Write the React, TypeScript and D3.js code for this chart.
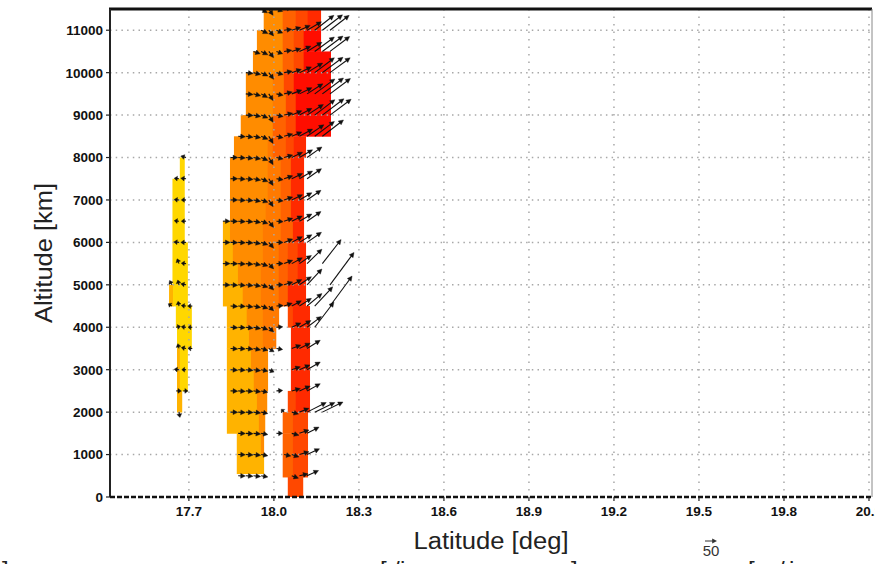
import React from 'react';
import * as d3 from 'd3';

// ---------- axes ----------
const xTickValues = [17.7, 18.0, 18.3, 18.6, 18.9, 19.2, 19.5, 19.8, 20.1];
const xTickLabels = ['17.7', '18.0', '18.3', '18.6', '18.9', '19.2', '19.5', '19.8', '20.1'];
const yTickValues = [0, 1000, 2000, 3000, 4000, 5000, 6000, 7000, 8000, 9000, 10000, 11000];
const yTickLabels = ['0', '1000', '2000', '3000', '4000', '5000', '6000', '7000', '8000', '9000', '10000', '11000'];
const latDomain = [17.4216, 20.1106];
const altDomain = [0, 11500];

// ---------- shaded field levels ----------
const levelColors = ['#FFD700', '#FFB300', '#FF8C00', '#FF7A00', '#FF6200', '#FF4800', '#FF2A00', '#FF0D00'];

// [lat0, lat1, alt0, alt1, level]
const cells: [number, number, number, number, number][] = [
  // yellow column
  [17.668, 17.684, 7500, 8000, 0],
  [17.642, 17.684, 6000, 7500, 0],
  [17.642, 17.695, 5000, 6000, 0],
  [17.630, 17.644, 4500, 5000, 1], [17.644, 17.695, 4500, 5000, 0],
  [17.654, 17.709, 4000, 4500, 0],
  [17.658, 17.709, 3500, 4000, 0],
  [17.658, 17.668, 2500, 3500, 1], [17.668, 17.695, 2500, 3500, 0],
  [17.658, 17.675, 2000, 2500, 1],
  // main block, upper part
  [17.964, 18.031, 11000, 11500, 2], [18.031, 18.077, 11000, 11500, 4], [18.077, 18.119, 11000, 11500, 5], [18.119, 18.165, 11000, 11500, 6],
  [17.940, 18.031, 10500, 11000, 2], [18.031, 18.070, 10500, 11000, 4], [18.070, 18.105, 10500, 11000, 5], [18.105, 18.165, 10500, 11000, 7],
  [17.926, 18.031, 10000, 10500, 2], [18.031, 18.070, 10000, 10500, 4], [18.070, 18.105, 10000, 10500, 5], [18.105, 18.200, 10000, 10500, 7],
  [17.901, 17.996, 9500, 10000, 2], [17.996, 18.035, 9500, 10000, 3], [18.035, 18.070, 9500, 10000, 5], [18.070, 18.200, 9500, 10000, 7],
  [17.901, 17.996, 9000, 9500, 2], [17.996, 18.042, 9000, 9500, 3], [18.042, 18.077, 9000, 9500, 5], [18.077, 18.200, 9000, 9500, 7],
  [17.883, 17.996, 8500, 9000, 2], [17.996, 18.042, 8500, 9000, 4], [18.042, 18.077, 8500, 9000, 5], [18.077, 18.200, 8500, 9000, 7],
  [17.859, 17.978, 8000, 8500, 2], [17.978, 17.996, 8000, 8500, 3], [17.996, 18.042, 8000, 8500, 4], [18.042, 18.070, 8000, 8500, 5], [18.070, 18.112, 8000, 8500, 6],
  [17.845, 17.978, 7500, 8000, 2], [17.978, 18.024, 7500, 8000, 3], [18.024, 18.060, 7500, 8000, 4], [18.060, 18.105, 7500, 8000, 6],
  [17.845, 17.978, 7000, 7500, 2], [17.978, 18.024, 7000, 7500, 3], [18.024, 18.060, 7000, 7500, 4], [18.060, 18.105, 7000, 7500, 6],
  [17.845, 17.971, 6500, 7000, 2], [17.971, 18.024, 6500, 7000, 3], [18.024, 18.060, 6500, 7000, 4], [18.060, 18.105, 6500, 7000, 6],
  [17.820, 17.845, 6000, 6500, 1], [17.845, 17.961, 6000, 6500, 2], [17.961, 18.024, 6000, 6500, 3], [18.024, 18.067, 6000, 6500, 4], [18.067, 18.105, 6000, 6500, 6],
  [17.820, 17.855, 5500, 6000, 1], [17.855, 17.961, 5500, 6000, 2], [17.961, 18.017, 5500, 6000, 3], [18.017, 18.049, 5500, 6000, 4], [18.049, 18.084, 5500, 6000, 5], [18.084, 18.112, 5500, 6000, 6],
  [17.820, 17.873, 5000, 5500, 1], [17.873, 17.954, 5000, 5500, 2], [17.954, 18.017, 5000, 5500, 3], [18.017, 18.049, 5000, 5500, 4], [18.049, 18.084, 5000, 5500, 5], [18.084, 18.112, 5000, 5500, 6],
  [17.820, 17.890, 4500, 5000, 1], [17.890, 17.954, 4500, 5000, 2], [17.954, 18.017, 4500, 5000, 3], [18.017, 18.049, 4500, 5000, 4], [18.049, 18.112, 4500, 5000, 6],
  // lower part: orange block + red column separated by a gap
  [17.834, 17.904, 4000, 4500, 1], [17.904, 17.961, 4000, 4500, 2], [17.961, 18.017, 4000, 4500, 3], [18.049, 18.067, 4000, 4500, 5], [18.067, 18.126, 4000, 4500, 6],
  [17.834, 17.912, 3500, 4000, 1], [17.912, 17.961, 3500, 4000, 2], [17.961, 18.007, 3500, 4000, 3], [18.060, 18.126, 3500, 4000, 6],
  [17.834, 17.919, 3000, 3500, 1], [17.919, 17.978, 3000, 3500, 2], [18.060, 18.126, 3000, 3500, 6],
  [17.834, 17.929, 2500, 3000, 1], [17.929, 17.978, 2500, 3000, 2], [18.060, 18.126, 2500, 3000, 6],
  [17.834, 17.940, 2000, 2500, 1], [17.940, 17.975, 2000, 2500, 2], [18.049, 18.077, 2000, 2500, 5], [18.077, 18.126, 2000, 2500, 6],
  [17.834, 17.947, 1500, 2000, 1], [17.947, 17.968, 1500, 2000, 2], [18.031, 18.067, 1500, 2000, 4], [18.067, 18.119, 1500, 2000, 5],
  [17.869, 17.954, 1000, 1500, 1], [17.954, 17.964, 1000, 1500, 2], [18.031, 18.067, 1000, 1500, 4], [18.067, 18.119, 1000, 1500, 5],
  [17.869, 17.964, 550, 1000, 1], [18.031, 18.067, 470, 1000, 4], [18.067, 18.119, 470, 1000, 5],
  [18.049, 18.102, 0, 470, 5],
];

// ---------- wind vectors: [altitude, [[lat, u (m/s), w (m/s)], ...]] ----------
const windRows: [number, [number, number, number][]][] = [
  [11500, [[17.955, 26, -16], [17.982, 18, -26], [18.009, 26, -10], [18.036, 32, 6], [18.063, 36, 12], [18.09, 42, 18], [18.117, 55, 30], [18.144, 72, 48]]],
  [11000, [[17.955, 28, -14], [17.982, 20, -24], [18.009, 26, -12], [18.036, 32, 4], [18.063, 38, 12], [18.09, 45, 20], [18.117, 60, 35], [18.144, 80, 62], [18.171, 84, 64], [18.198, 80, 62]]],
  [10500, [[17.928, 28, -10], [17.955, 28, -14], [17.982, 20, -26], [18.009, 26, -10], [18.036, 32, 5], [18.063, 38, 12], [18.09, 48, 22], [18.117, 62, 38], [18.144, 82, 60], [18.171, 86, 64], [18.198, 82, 62]]],
  [10000, [[17.901, 30, -4], [17.928, 30, -8], [17.955, 28, -14], [17.982, 20, -28], [18.009, 28, -8], [18.036, 34, 6], [18.063, 40, 14], [18.09, 50, 24], [18.117, 65, 40], [18.144, 82, 62], [18.171, 86, 64], [18.198, 84, 62]]],
  [9500, [[17.901, 30, -3], [17.928, 30, -8], [17.955, 27, -15], [17.982, 18, -28], [18.009, 28, -6], [18.036, 34, 8], [18.063, 42, 16], [18.09, 52, 26], [18.117, 66, 42], [18.144, 84, 62], [18.171, 88, 66], [18.198, 85, 64]]],
  [9000, [[17.901, 30, -2], [17.928, 30, -6], [17.955, 28, -12], [17.982, 18, -30], [18.009, 28, -6], [18.036, 36, 8], [18.063, 42, 18], [18.09, 52, 28], [18.117, 68, 44], [18.144, 84, 64], [18.171, 90, 68], [18.198, 88, 66]]],
  [8500, [[17.874, 30, -2], [17.901, 30, -4], [17.928, 30, -6], [17.955, 28, -12], [17.982, 18, -30], [18.009, 28, -6], [18.036, 36, 10], [18.063, 42, 18], [18.09, 55, 30], [18.117, 70, 48], [18.144, 82, 62], [18.171, 88, 68]]],
  [8000, [[17.69, -22, 6], [17.847, 30, 0], [17.874, 30, -2], [17.901, 30, -4], [17.928, 30, -6], [17.955, 28, -12], [17.982, 18, -30], [18.009, 28, -6], [18.036, 36, 10], [18.063, 45, 22], [18.09, 55, 32], [18.117, 62, 44]]],
  [7500, [[17.665, -20, 2], [17.69, -22, 2], [17.847, 30, 0], [17.874, 30, -2], [17.901, 30, -3], [17.928, 30, -6], [17.955, 28, -12], [17.982, 18, -28], [18.009, 28, -4], [18.036, 36, 12], [18.063, 45, 22], [18.09, 55, 32], [18.117, 60, 42]]],
  [7000, [[17.665, -20, 2], [17.69, -20, 0], [17.847, 30, 0], [17.874, 30, -2], [17.901, 30, -3], [17.928, 30, -6], [17.955, 28, -10], [17.982, 18, -28], [18.009, 28, -4], [18.036, 36, 12], [18.063, 45, 22], [18.09, 52, 30], [18.117, 58, 40]]],
  [6500, [[17.665, -20, 2], [17.69, -20, 0], [17.82, 30, 0], [17.847, 30, -1], [17.874, 30, -2], [17.901, 30, -3], [17.928, 30, -6], [17.955, 28, -10], [17.982, 20, -26], [18.009, 28, -2], [18.036, 36, 12], [18.063, 44, 22], [18.09, 52, 30], [18.117, 58, 40]]],
  [6000, [[17.665, -22, 2], [17.69, -22, 0], [17.82, 30, 0], [17.847, 30, -1], [17.874, 30, -2], [17.901, 30, -3], [17.928, 30, -6], [17.955, 28, -10], [17.982, 20, -24], [18.009, 28, 0], [18.036, 36, 14], [18.063, 44, 24], [18.09, 52, 32], [18.117, 60, 42]]],
  [5500, [[17.665, -8, 20], [17.69, -20, 2], [17.82, 30, 0], [17.847, 30, -1], [17.874, 30, -2], [17.901, 30, -3], [17.928, 30, -6], [17.955, 28, -10], [17.982, 20, -22], [18.009, 28, 0], [18.036, 36, 14], [18.063, 44, 24], [18.09, 50, 34], [18.117, 62, 60], [18.171, 78, 100]]],
  [5000, [[17.64, -10, 18], [17.665, -5, 20], [17.69, -22, 4], [17.82, 30, -1], [17.847, 30, -2], [17.874, 30, -3], [17.901, 30, -4], [17.928, 30, -6], [17.955, 28, -10], [17.982, 20, -22], [18.009, 28, 0], [18.036, 36, 12], [18.063, 42, 22], [18.09, 50, 34], [18.117, 62, 66], [18.198, 100, 135]]],
  [4500, [[17.64, -15, 10], [17.665, -4, 20], [17.69, -20, 2], [17.712, -20, 0], [17.847, 30, -2], [17.874, 30, -2], [17.901, 30, -4], [17.928, 30, -6], [17.955, 28, -10], [17.982, 20, -20], [18.009, 28, 2], [18.036, 34, 12], [18.063, 40, 22], [18.09, 50, 32], [18.117, 62, 52], [18.144, 75, 80], [18.198, 92, 125]]],
  [4000, [[17.655, 18, 4], [17.69, -20, 2], [17.712, -18, 0], [17.847, 30, -2], [17.874, 30, -2], [17.901, 30, -4], [17.928, 30, -6], [17.955, 28, -10], [17.982, 20, -20], [18.009, 26, 2], [18.063, 38, 18], [18.09, 48, 28], [18.117, 60, 45], [18.144, 80, 105]]],
  [3500, [[17.665, -5, 20], [17.69, -20, 4], [17.712, -18, 0], [17.847, 30, -2], [17.874, 30, -2], [17.901, 30, -3], [17.928, 30, -6], [17.955, 28, -8], [17.982, 22, -14], [18.009, 26, -4], [18.063, 38, 14], [18.09, 45, 22], [18.117, 55, 34]]],
  [3000, [[17.665, -20, 2], [17.69, -18, 0], [17.847, 30, -2], [17.874, 30, -2], [17.901, 30, -3], [17.928, 30, -4], [17.955, 28, -6], [17.982, 22, -10], [18.063, 36, 12], [18.09, 44, 20], [18.117, 55, 32]]],
  [2500, [[17.655, 22, 0], [17.68, 20, 0], [17.847, 30, -1], [17.874, 30, -2], [17.901, 30, -2], [17.928, 30, -4], [17.955, 28, -6], [18.009, 26, 2], [18.063, 36, 10], [18.09, 45, 20], [18.117, 55, 30]]],
  [2000, [[17.665, 4, -22], [17.847, 30, -1], [17.874, 30, -2], [17.901, 30, -2], [17.928, 30, -4], [17.955, 28, -6], [18.036, -12, 12], [18.063, 28, -8], [18.09, 40, 16], [18.117, 80, 40], [18.144, 84, 40], [18.171, 86, 42]]],
  [1500, [[17.874, 30, -1], [17.901, 30, -2], [17.928, 30, -3], [17.955, 28, -5], [18.009, 26, 0], [18.063, 30, -8], [18.09, 40, 14], [18.117, 50, 26]]],
  [1000, [[17.874, 30, -1], [17.901, 30, -2], [17.928, 30, -3], [17.955, 28, -5], [18.036, 28, -6], [18.063, 30, -10], [18.09, 40, 12], [18.117, 52, 24]]],
  [500, [[17.874, 30, -1], [17.901, 30, -2], [17.928, 30, -3], [17.955, 28, -5], [18.063, 28, -10], [18.09, 36, 8], [18.117, 48, 22]]],
];

const refSpeed = 50;
const refLabel = '50';
const xTitle = 'Latitude [deg]';
const yTitle = 'Altitude [km]';
const bottomFragments: [string, number][] = [[']', 2], ['[', 380], ['/', 393], ['i', 400], [']', 571], ['[', 748], ['/', 778], ['i', 789]];

function arrowParts(x0: number, y0: number, dx: number, dy: number) {
  const len = Math.hypot(dx, dy);
  if (len < 0.3) return null;
  const ux = dx / len, uy = dy / len;
  const hl = Math.min(4.8, len * 0.65);
  const hw = 2.4;
  const x1 = x0 + dx, y1 = y0 + dy;
  const bx = x1 - ux * hl, by = y1 - uy * hl;
  return {
    line: `M${x0},${y0}L${x1 - ux * hl * 0.5},${y1 - uy * hl * 0.5}`,
    head: `M${x1},${y1}L${bx - uy * hw},${by + ux * hw}L${bx + uy * hw},${by - ux * hw}Z`,
  };
}

export default function App() {
  const L = 110, R = 872, T = 9, B = 497;
  const x = d3.scaleLinear().domain(latDomain).range([L, R]);
  const y = d3.scaleLinear().domain(altDomain).range([B, T]);
  const vs = d3.scaleLinear().domain([0, refSpeed]).range([0, 12]);

  const arrows: { line: string; head: string }[] = [];
  windRows.forEach(([alt, list]) => {
    list.forEach(([lat, u, w]) => {
      const p = arrowParts(x(lat), y(alt), vs(u), -vs(w));
      if (p) arrows.push(p);
    });
  });
  const refArrow = arrowParts(705, 541, vs(refSpeed), 0)!;

  return (
    <svg width={875} height={564} style={{ position: 'absolute', left: 0, top: 0, background: '#fff' }}
      fontFamily="'Liberation Sans', Arial, sans-serif">
      <defs>
        <clipPath id="plotclip"><rect x={L} y={T} width={R - L} height={B - T} /></clipPath>
      </defs>
      <g clipPath="url(#plotclip)">
        {cells.map(([a, b, c, d, lv], i) => (
          <rect key={'c' + i} x={x(a)} y={y(d)} width={x(b) - x(a) + 0.4} height={y(c) - y(d) + 0.4}
            fill={levelColors[lv]} />
        ))}
        {yTickValues.slice(1).map((v) => (
          <line key={'gh' + v} x1={L} x2={R} y1={y(v)} y2={y(v)} stroke="#a8a8a8" strokeWidth={1.5}
            strokeDasharray="1.5,4.2" />
        ))}
        {xTickValues.map((v) => (
          <line key={'gv' + v} x1={x(v)} x2={x(v)} y1={T} y2={B} stroke="#a8a8a8" strokeWidth={1.5}
            strokeDasharray="1.5,6" />
        ))}
        {arrows.map((p, i) => (
          <g key={'a' + i}>
            <path d={p.line} stroke="#111" strokeWidth={1.1} fill="none" />
            <path d={p.head} fill="#111" stroke="#111" strokeWidth={0.4} />
          </g>
        ))}
      </g>
      {/* frame */}
      <line x1={L - 1} x2={R} y1={T} y2={T} stroke="#111" strokeWidth={3} />
      <line x1={R} x2={R} y1={T} y2={B} stroke="#888" strokeWidth={1} />
      <line x1={L} x2={L} y1={T} y2={B} stroke="#222" strokeWidth={2} />
      <line x1={L} x2={R} y1={B} y2={B} stroke="#111" strokeWidth={2.5} strokeDasharray="5,2" />
      {/* y ticks */}
      {yTickValues.map((v, i) => (
        <g key={'yt' + v}>
          <line x1={L - 4} x2={L} y1={y(v)} y2={y(v)} stroke="#222" strokeWidth={1.2} />
          <text x={L - 7} y={y(v)} dy="0.36em" textAnchor="end" fontSize={13.5} fontWeight="bold" fill="#111">
            {yTickLabels[i]}
          </text>
        </g>
      ))}
      {/* x ticks */}
      {xTickValues.map((v, i) => (
        <g key={'xt' + v}>
          <line x1={x(v)} x2={x(v)} y1={B} y2={B + 4} stroke="#222" strokeWidth={1.2} />
          <text x={x(v)} y={B + 19} textAnchor="middle" fontSize={13.5} fontWeight="bold" fill="#111">
            {xTickLabels[i]}
          </text>
        </g>
      ))}
      {/* titles */}
      <text x={(L + R) / 2} y={549} textAnchor="middle" fontSize={23} fill="#222"
        textLength={155} lengthAdjust="spacingAndGlyphs">{xTitle}</text>
      <text transform={`translate(52,${(T + B) / 2}) rotate(-90)`} textAnchor="middle" fontSize={23} fill="#222"
        textLength={140} lengthAdjust="spacingAndGlyphs">{yTitle}</text>
      {/* reference vector */}
      <path d={refArrow.line} stroke="#333" strokeWidth={1} />
      <path d={refArrow.head} fill="#333" />
      <text x={711} y={556} textAnchor="middle" fontSize={15} fill="#333">{refLabel}</text>
      {/* cut-off text of the next panel */}
      {bottomFragments.map(([t, px], i) => (
        <text key={'bf' + i} x={px} y={578} fontSize={24} fill="#222">{t}</text>
      ))}
    </svg>
  );
}
